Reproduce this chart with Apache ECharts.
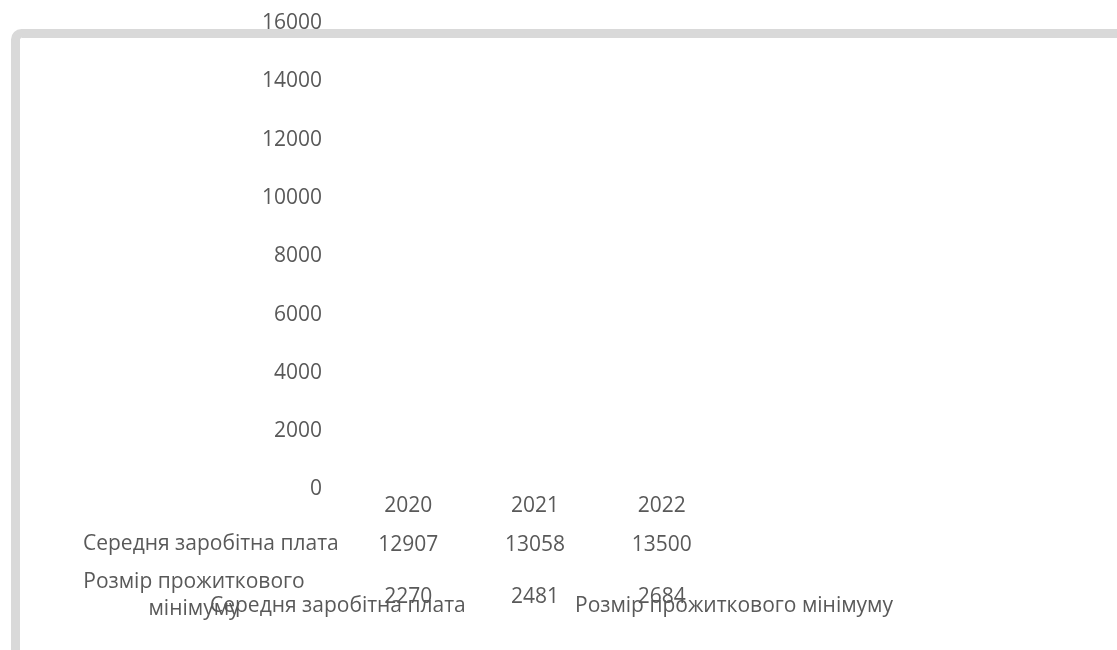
<!DOCTYPE html>
<html>
<head>
<meta charset="utf-8">
<script src="https://cdn.jsdelivr.net/npm/echarts@6/dist/echarts.min.js"></script>
<style>
html,body{margin:0;padding:0;background:#fff;}
#chart{width:1117px;height:650px;}
</style>
</head>
<body>
<div id="chart"></div>
<script>
var categories = ['2020', '2021', '2022'];
var seriesNames = ['Середня заробітна плата', 'Розмір прожиткового мінімуму'];
var rowLabels = [['Середня заробітна плата'], ['Розмір прожиткового', 'мінімуму']];
var salary = [12907, 13058, 13500];
var minimum = [2270, 2481, 2684];
var yMin = 0, yMax = 16000, yStep = 2000;

var FONT = 'Open Sans';
var COLOR = '#595959';
var FS = 21;

var chart = echarts.init(document.getElementById('chart'));

function tableAxis(values, offset) {
  return {
    type: 'category',
    data: categories,
    position: 'bottom',
    offset: offset,
    axisLine: {show: false},
    axisTick: {show: false},
    axisLabel: {
      color: COLOR, fontFamily: FONT, fontSize: FS, margin: 4, lineHeight: 25,
      formatter: function (v, i) { return String(values[i]); }
    }
  };
}

var option = {
  animation: false,
  backgroundColor: '#ffffff',
  textStyle: {fontFamily: FONT},
  grid: {left: 345, right: 392, top: 23, bottom: 160.5, containLabel: false},
  xAxis: [
    {
      type: 'category', data: categories, position: 'bottom',
      axisLine: {show: false}, axisTick: {show: false}, splitLine: {show: false},
      axisLabel: {color: COLOR, fontFamily: FONT, fontSize: FS, margin: 4, lineHeight: 25}
    },
    tableAxis(salary, 39),
    tableAxis(minimum, 91)
  ],
  yAxis: {
    type: 'value', min: yMin, max: yMax, interval: yStep,
    axisLine: {show: false}, axisTick: {show: false}, splitLine: {show: false},
    axisLabel: {
      color: COLOR, fontFamily: FONT, fontSize: FS, margin: 23,
      formatter: function (v) { return String(v); }
    }
  },
  legend: [
    {
      data: [seriesNames[0]], left: 200, top: 589, itemWidth: 0, itemHeight: 0, itemGap: 0,
      selectedMode: false,
      textStyle: {color: COLOR, fontFamily: FONT, fontSize: FS, lineHeight: 24}
    },
    {
      data: [seriesNames[1]], left: 565, top: 589, itemWidth: 0, itemHeight: 0, itemGap: 0,
      selectedMode: false,
      textStyle: {color: COLOR, fontFamily: FONT, fontSize: FS, lineHeight: 24}
    }
  ],
  series: [
    {
      name: seriesNames[0], type: 'bar', data: salary, silent: true,
      itemStyle: {color: 'rgba(0,0,0,0)', opacity: 0}
    },
    {
      name: seriesNames[1], type: 'bar', data: minimum, silent: true,
      itemStyle: {color: 'rgba(0,0,0,0)', opacity: 0}
    }
  ],
  graphic: [
    {
      type: 'rect', z: -10, silent: true,
      shape: {x: 15.5, y: 33.5, width: 1300, height: 900, r: 6},
      style: {fill: 'none', stroke: '#d9d9d9', lineWidth: 9}
    },
    {
      type: 'text', left: 83, top: 534, silent: true,
      style: {text: rowLabels[0].join('\n'), fill: COLOR, font: FS + 'px "' + FONT + '"'}
    },
    {
      type: 'text', x: 194, y: 569, silent: true,
      style: {text: rowLabels[1].join('\n'), fill: COLOR, font: FS + 'px "' + FONT + '"', align: 'center', lineHeight: 27}
    }
  ]
};
chart.setOption(option);
</script>
</body>
</html>
